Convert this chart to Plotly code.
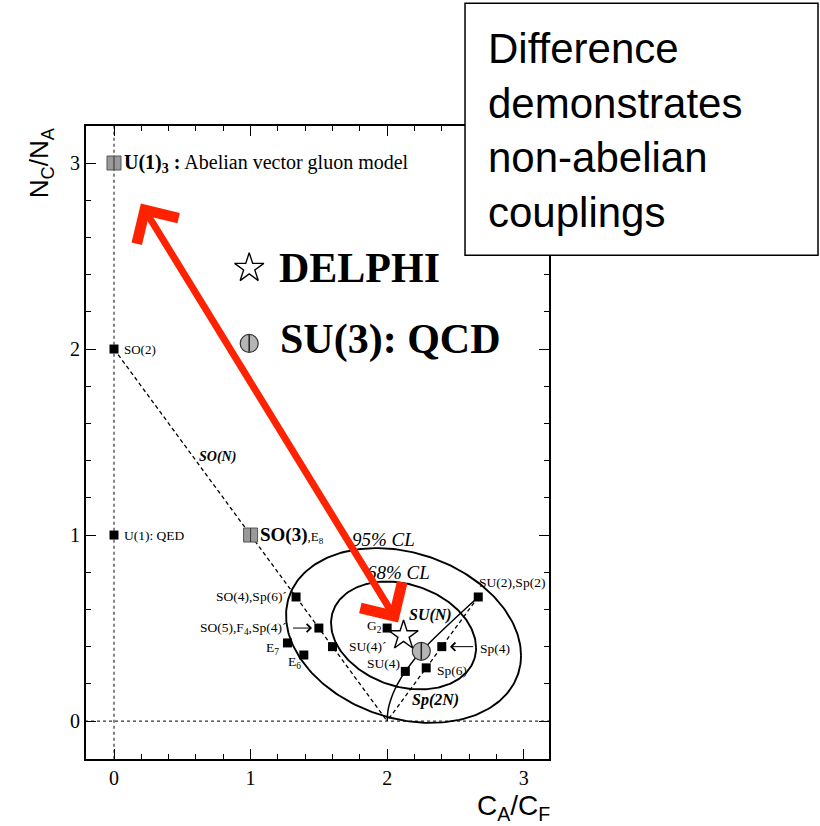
import numpy as np
import plotly.graph_objects as go

SERIF = "Liberation Serif, Times New Roman, serif"
SANS = "Liberation Sans, Arial, sans-serif"

# ---- data (C_A/C_F, N_C/N_A) ----
gray_names = ["U(1)_3", "SO(3),E8"]
gray_x = [0.0, 1.0]
gray_y = [3.0, 1.0]

black_names = ["SO(2)", "U(1): QED", "SO(4),Sp(6)'", "SO(5),F4,Sp(4)'", "SU(4)'",
               "E7", "E6", "G2", "Sp(4)", "Sp(6)", "SU(4)", "SU(2),Sp(2)"]
black_x = [0.0, 0.0, 1.333, 1.5, 1.6, 1.27, 1.39, 2.0, 2.4, 2.286, 2.133, 2.667]
black_y = [2.0, 1.0, 0.667, 0.5, 0.4, 0.42, 0.355, 0.5, 0.4, 0.286, 0.267, 0.667]

qcd_x = [2.25]
qcd_y = [0.375]
delphi_x = [2.12]
delphi_y = [0.46]

son_x = [0.0, 1.0, 1.333, 1.5, 1.6, 2.0]
son_y = [2.0, 1.0, 0.667, 0.5, 0.4, 0.0]
sun_x = [2.667, 2.25, 2.133, 2.083, 2.057, 2.032, 2.014, 2.005, 2.0]
sun_y = [0.667, 0.375, 0.267, 0.208, 0.171, 0.127, 0.084, 0.050, 0.0]
sp_x = [2.667, 2.4, 2.286, 2.0]
sp_y = [0.667, 0.4, 0.286, 0.0]

# confidence ellipse parameters (centre, 1-sigma widths, correlation)
ell_cx, ell_cy = 2.12, 0.46
ell_sx, ell_sy, ell_rho = 0.531, 0.290, -0.23
cl_levels = [1.0, 1.62]  # 68% CL, 95% CL

x_ticks = [0, 1, 2, 3]
y_ticks = [0, 1, 2, 3]

fig = go.Figure()

# dotted reference lines
fig.add_trace(go.Scatter(x=[0, 0], y=[-0.3, 3.3], mode="lines",
                         line=dict(color="#333", width=1.2, dash="dot"), hoverinfo="skip"))
fig.add_trace(go.Scatter(x=[-0.3, 3.3], y=[0, 0], mode="lines",
                         line=dict(color="#333", width=1.2, dash="dot"), hoverinfo="skip"))

# ellipses
cov = np.array([[ell_sx**2, ell_rho*ell_sx*ell_sy], [ell_rho*ell_sx*ell_sy, ell_sy**2]])
L = np.linalg.cholesky(cov)
t = np.linspace(0, 2*np.pi, 240)
circ = np.vstack([np.cos(t), np.sin(t)])
for k in cl_levels:
    pts = L @ circ * k
    fig.add_trace(go.Scatter(x=ell_cx + pts[0], y=ell_cy + pts[1], mode="lines",
                             line=dict(color="black", width=1.9), hoverinfo="skip"))

# group lines
fig.add_trace(go.Scatter(x=son_x, y=son_y, mode="lines",
                         line=dict(color="black", width=1.3, dash="4px,3px")))
fig.add_trace(go.Scatter(x=sp_x, y=sp_y, mode="lines",
                         line=dict(color="black", width=1.3, dash="4px,3px")))
fig.add_trace(go.Scatter(x=sun_x, y=sun_y, mode="lines", line_shape="spline",
                         line=dict(color="black", width=1.5)))

# markers
fig.add_trace(go.Scatter(x=black_x, y=black_y, mode="markers", text=black_names,
                         marker=dict(symbol="square", size=9, color="black")))
fig.add_trace(go.Scatter(x=gray_x, y=gray_y, mode="markers", text=gray_names,
                         marker=dict(symbol="square", size=14, color="#9a9a9a",
                                     line=dict(color="#555", width=1))))
fig.add_trace(go.Scatter(x=gray_x, y=gray_y, mode="markers",
                         marker=dict(symbol="line-ns", size=10,
                                     line=dict(color="#333", width=1))))
# QCD point and legend symbol
qcd_sym_x = qcd_x + [0.99]
qcd_sym_y = qcd_y + [2.03]
fig.add_trace(go.Scatter(x=qcd_sym_x, y=qcd_sym_y, mode="markers",
                         marker=dict(symbol="circle", size=18, color="#b5b5b5",
                                     line=dict(color="#333", width=1.2))))
fig.add_trace(go.Scatter(x=qcd_sym_x, y=qcd_sym_y, mode="markers",
                         marker=dict(symbol="line-ns", size=12,
                                     line=dict(color="#222", width=1.5))))
# DELPHI star and legend symbol
fig.add_trace(go.Scatter(x=delphi_x + [0.99], y=delphi_y + [2.435], mode="markers",
                         marker=dict(symbol="star-open", size=22, color="black",
                                     line=dict(color="black", width=1.4))))

ann = []

def txt(x, y, s, size=13.5, xanchor="left", yanchor="middle", font=SERIF):
    ann.append(dict(x=x, y=y, xref="x", yref="y", text=s, showarrow=False,
                    xanchor=xanchor, yanchor=yanchor,
                    font=dict(family=font, size=size, color="black")))

txt(0.055, 3.0, "<b>U(1)<sub>3</sub> :</b> Abelian vector gluon model", 20)
txt(0.06, 2.0, "SO(2)", 13)
txt(0.06, 1.0, "U(1): QED", 13.5)
txt(0.76, 1.42, "<b><i>SO(N)</i></b>", 14, xanchor="center")
txt(1.055, 1.0, "<b>SO(3)</b><span style='font-size:13px'>,E<sub>8</sub></span>", 19)
txt(1.73, 0.975, "<i>95% CL</i>", 19)
txt(1.84, 0.80, "<i>68% CL</i>", 19)
txt(1.28, 0.667, "SO(4),Sp(6)´", xanchor="right")
txt(1.275, 0.5, "SO(5),F<sub>4</sub>,Sp(4)´", xanchor="right")
txt(1.225, 0.39, "E<sub>7</sub>", xanchor="right")
txt(1.32, 0.317, "E<sub>6</sub>", xanchor="center")
txt(1.705, 0.40, "SU(4)´")
txt(1.975, 0.51, "G<sub>2</sub>", xanchor="right")
txt(2.145, 0.57, "<b><i>SU(N)</i></b>", 16)
txt(2.665, 0.39, "Sp(4)")
txt(2.35, 0.27, "Sp(6)")
txt(2.11, 0.31, "SU(4)", xanchor="right")
txt(2.17, 0.113, "<b><i>Sp(2N)</i></b>", 16)
txt(2.657, 0.747, "SU(2),Sp(2)")
txt(1.19, 2.435, "<b>DELPHI</b>", 42)
txt(1.20, 2.05, "<b>SU(3): QCD</b>", 42)

# small black arrows
ann.append(dict(x=1.45, y=0.5, ax=1.30, ay=0.5, xref="x", yref="y", axref="x", ayref="y",
                showarrow=True, arrowhead=4, arrowsize=1.6, arrowwidth=1, arrowcolor="black", text=""))
ann.append(dict(x=2.46, y=0.4, ax=2.64, ay=0.4, xref="x", yref="y", axref="x", ayref="y",
                showarrow=True, arrowhead=4, arrowsize=1.6, arrowwidth=1, arrowcolor="black", text=""))

# red double arrow
ann.append(dict(x=2.08, y=0.53, ax=0.19, ay=2.79, xref="x", yref="y", axref="x", ayref="y",
                showarrow=True, arrowhead=4, startarrowhead=4, arrowside="end+start",
                arrowsize=1.35, startarrowsize=1.35, arrowwidth=7, arrowcolor="#ff2200", text=""))

# axis titles
ann.append(dict(x=-0.099, y=0.9415, xref="paper", yref="paper", textangle=-90,
                xanchor="center", yanchor="middle",
                text="N<sub>C</sub>/N<sub>A</sub>", showarrow=False,
                font=dict(family=SANS, size=26, color="black")))
ann.append(dict(x=0.924, y=-0.077, xref="paper", yref="paper",
                xanchor="center", yanchor="middle",
                text="C<sub>A</sub>/C<sub>F</sub>", showarrow=False,
                font=dict(family=SANS, size=28, color="black")))

# text box
ann.append(dict(x=0.864, y=0.993, xref="paper", yref="paper", xanchor="left", yanchor="middle",
                align="left", showarrow=False,
                text="Difference<br>demonstrates<br>non-abelian<br>couplings",
                font=dict(family=SANS, size=42, color="black")))

fig.update_layout(
    width=820, height=826, margin=dict(l=86, r=271, t=126, b=67),
    paper_bgcolor="white", plot_bgcolor="white", showlegend=False,
    annotations=ann,
    shapes=[dict(type="rect", xref="paper", yref="paper", x0=0.8186, x1=1.581, y0=0.796, y1=1.194,
                 fillcolor="white", line=dict(color="black", width=1.5), layer="above")],
)
axis_common = dict(showline=True, linecolor="black", linewidth=2, mirror="allticks",
                   ticks="inside", ticklen=10, tickwidth=1.2, tickcolor="black",
                   showgrid=False, zeroline=False,
                   tickfont=dict(family=SERIF, size=20, color="black"))
fig.update_xaxes(range=[-0.205, 3.185], tickvals=x_ticks,
                 minor=dict(dtick=0.2, ticks="inside", ticklen=5, tickcolor="black", showgrid=False),
                 **axis_common)
fig.update_yaxes(range=[-0.204, 3.199], tickvals=y_ticks,
                 minor=dict(dtick=0.2, ticks="inside", ticklen=5, tickcolor="black", showgrid=False),
                 **axis_common)

fig.write_html("out.html")
